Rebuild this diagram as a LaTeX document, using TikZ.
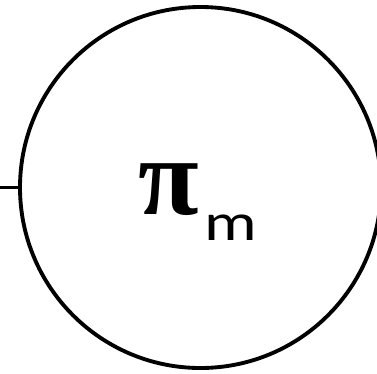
\documentclass[tikz,border=0pt]{standalone}
\usepackage{fontspec}
\usetikzlibrary{positioning}
\newfontfamily\subfont{Carlito}
\newfontfamily\pifont{Liberation Serif}

\begin{document}
\begin{tikzpicture}[x=0.02cm,y=0.02cm]

        %----- FRAME -----
        \useasboundingbox (0,0) rectangle (377,373);

        %----- NODE CIRCLE -----
        \coordinate (ctr) at (200.5,185.5);
        \draw[line width=2.2pt] (ctr) circle (180.5);
        \coordinate (circW) at (20,185.5);
        \coordinate (lineL) at (0,185.5);
        \draw[line width=2.2pt] (lineL) -- (circW);

        %----- LABEL -----
        \node[inner sep=0pt, anchor=base, font=\pifont\bfseries\fontsize{63}{63}\selectfont]
            (pi) at (169,159) {π};
        \node[inner sep=0pt, anchor=base west, xscale=1.25,
              font=\subfont\fontsize{30}{30}\selectfont]
            (sub) at (204,133) {m};

\end{tikzpicture}
\end{document}
